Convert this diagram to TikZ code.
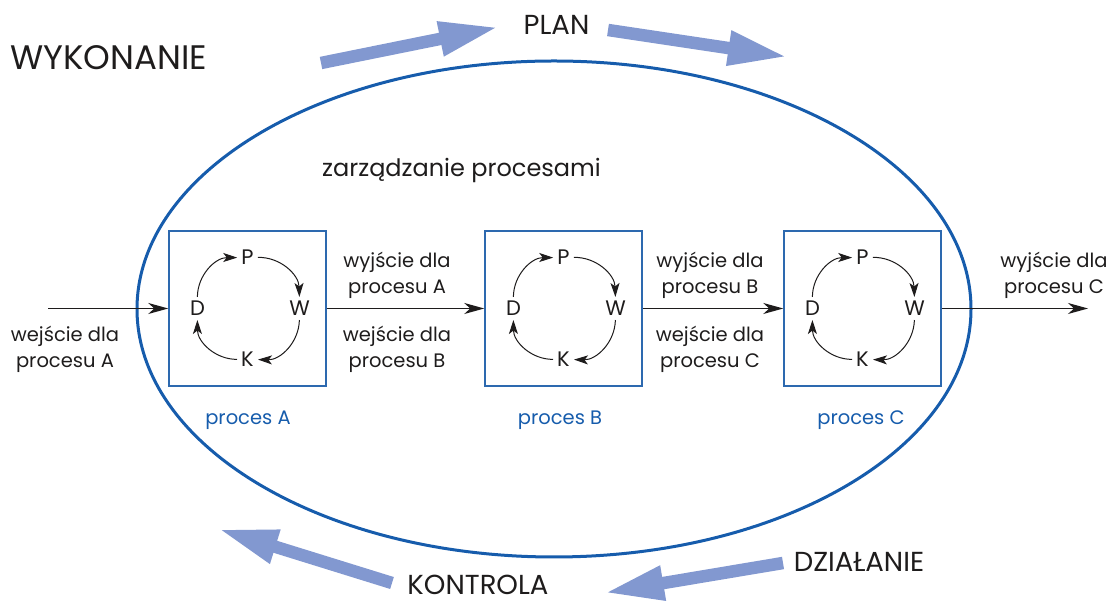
\documentclass[tikz,border=0pt]{standalone}
\usepackage{fontspec}
\setmainfont{Poppins}
\usetikzlibrary{arrows.meta,shapes.geometric}
\definecolor{ellblue}{RGB}{22,92,172}
\definecolor{boxblue}{RGB}{45,105,175}
\definecolor{bigarrow}{RGB}{130,152,208}
\definecolor{txt}{RGB}{30,28,28}
\newcommand\pdcacycle[1]{%
  \node[pdwk, yshift=51pt]  (#1P) at (#1) {P};
  \node[pdwk, xshift=52pt]  (#1W) at (#1) {W};
  \node[pdwk, yshift=-51pt] (#1K) at (#1) {K};
  \node[pdwk, xshift=-50pt] (#1D) at (#1) {D};
  \draw[cyc] (#1P) to[bend left=45] (#1W);
  \draw[cyc] (#1W) to[bend left=45] (#1K);
  \draw[cyc] (#1K) to[bend left=45] (#1D);
  \draw[cyc] (#1D) to[bend left=45] (#1P);
}
\begin{document}
\begin{tikzpicture}[x=1pt,y=1pt,
  bigarr/.style={line width=12.5pt, draw=bigarrow, -{Triangle[length=60pt,width=32pt]}},
  flow/.style={line width=1.3pt, draw=txt, -{Stealth[length=20pt,width=11pt,inset=6pt]}},
  cyc/.style={line width=1pt, draw=txt, -{Stealth[length=14pt,width=9pt,inset=3.5pt]}},
  procbox/.style={draw=boxblue, line width=1.5pt, minimum width=157pt, minimum height=155pt, inner sep=0pt},
  lbl/.style={font=\fontsize{19.5}{26}\selectfont, text=txt, align=center, inner sep=0pt},
  pdwk/.style={font=\fontsize{21}{21}\selectfont, text=txt, inner sep=4pt},
  proclbl/.style={font=\fontsize{19.5}{19.5}\selectfont, text=ellblue, inner sep=0pt, anchor=base},
  captxt/.style={font=\fontsize{27.5}{27.5}\selectfont, text=txt, inner sep=0pt, anchor=base},
  bigtxt/.style={font=\fontsize{34}{34}\selectfont, text=txt, inner sep=0pt, anchor=base west},
  midtxt/.style={font=\fontsize{24}{24}\selectfont, text=txt, inner sep=0pt, anchor=base}
]
\useasboundingbox (0,0) rectangle (1109,604);
% ellipse
\node[draw=ellblue, line width=3pt, ellipse, minimum width=834pt, minimum height=496pt, inner sep=0pt] (ell) at (554,295) {};
% titles
\node[bigtxt] (wyk) at (10,534) {WYKONANIE};
\node[captxt] (plan) at (556.5,569) {PLAN};
\node[captxt] (kontrola) at (478,9) {KONTROLA};
\node[captxt] (dzial) at (859,32) {DZIAŁANIE};
\node[midtxt] (zarz) at (461.5,427) {zarządzanie procesami};
% big arrows
\coordinate (a1s) at (321,541); \coordinate (a1e) at (499,577);
\coordinate (a2s) at (608,574); \coordinate (a2e) at (788,547);
\coordinate (a3s) at (392,21);  \coordinate (a3e) at (218,75);
\coordinate (a4s) at (783,41);  \coordinate (a4e) at (604,11);
\draw[bigarr] (a1s) -- (a1e);
\draw[bigarr] (a2s) -- (a2e);
\draw[bigarr] (a3s) -- (a3e);
\draw[bigarr] (a4s) -- (a4e);
% process boxes
\node[procbox] (A) at (247.5,295.5) {};
\node[procbox] (B) at (563.5,295.5) {};
\node[procbox] (C) at (862.5,295.5) {};
\pdcacycle{A}
\pdcacycle{B}
\pdcacycle{C}
\node[proclbl] (pA) at (248,179) {proces A};
\node[proclbl] (pB) at (560,179) {proces B};
\node[proclbl] (pC) at (861,179) {proces C};
% flow
\coordinate (inA) at (48,295.5);
\coordinate (outC) at (1088,295.5);
\draw[flow] (inA) -- (A.west);
\draw[flow] (A.east) -- (B.west);
\draw[flow] (B.east) -- (C.west);
\draw[flow] (C.east) -- (outC);
% labels
\node[lbl] (l1) at (65,254.5) {wejście dla\\procesu A};
\node[lbl] (l2) at (397,329) {wyjście dla\\procesu A};
\node[lbl] (l3) at (397,254.5) {wejście dla\\procesu B};
\node[lbl] (l4) at (710,329) {wyjście dla\\procesu B};
\node[lbl] (l5) at (710,254.5) {wejście dla\\procesu C};
\node[lbl] (l6) at (1054,329) {wyjście dla\\procesu C};
\end{tikzpicture}
\end{document}
